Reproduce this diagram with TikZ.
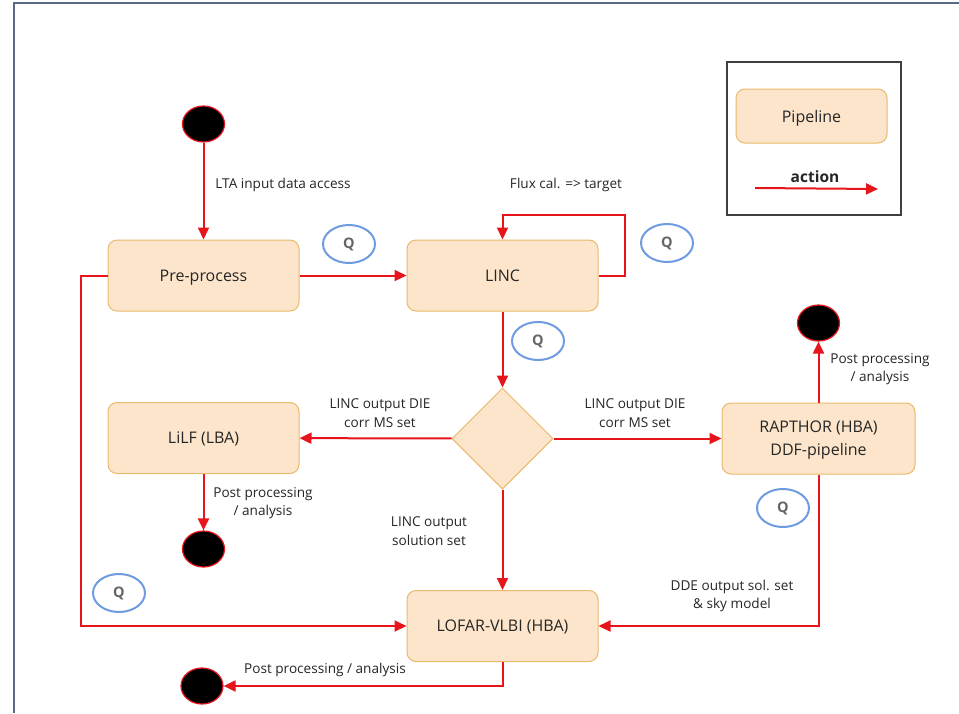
\documentclass[tikz,border=0pt]{standalone}
\usepackage{fontspec}
\setmainfont{Open Sans}
\usetikzlibrary{arrows.meta,shapes.geometric}
\definecolor{boxfill}{HTML}{FCE5CB}
\definecolor{boxborder}{HTML}{E9B96C}
\definecolor{arrred}{HTML}{E8141B}
\definecolor{qblue}{HTML}{6F9BE0}
\definecolor{framecol}{HTML}{596A86}
\definecolor{txt}{HTML}{262626}
\tikzset{
  pipe/.style={rectangle, rounded corners=9pt, draw=boxborder, fill=boxfill, line width=1pt,
    minimum width=191pt, minimum height=71pt, inner sep=0pt, align=center, text=txt,
    font=\fontsize{16}{23}\selectfont, text depth=0pt},
  decis/.style={diamond, aspect=1, draw=boxborder, fill=boxfill, line width=1pt,
    minimum width=101pt, minimum height=101pt, inner sep=0pt},
  endpt/.style={ellipse, fill=black, draw=arrred, line width=1.2pt, minimum width=42pt,
    minimum height=36pt, inner sep=0pt},
  qmark/.style={ellipse, draw=qblue, line width=2pt, fill=white, minimum width=52pt,
    minimum height=38pt, inner sep=0pt, text=black!60, font=\bfseries\fontsize{14.5}{16}\selectfont},
  arr/.style={draw=arrred, line width=2pt, -{Triangle[length=12pt,width=11pt]}},
  lbl/.style={align=center, text=txt, font=\fontsize{13.6}{18.5}\selectfont, inner sep=0pt}
}
\begin{document}
\begin{tikzpicture}[x=1pt,y=-1pt]
\useasboundingbox (0,0) rectangle (959,713);
\fill[white] (0,0) rectangle (959,713);
\draw[framecol, line width=2pt] (14,713) -- (14,3) -- (959,3);

% legend
\node[draw=black!75, line width=2pt, minimum width=174pt, minimum height=153pt, inner sep=0pt] (legend) at (814,138.5) {};
\node[pipe, minimum width=151pt, minimum height=54pt] (legpipe) at (811.5,116) {Pipeline};
\node[font=\bfseries\fontsize{15.5}{18}\selectfont, text=txt] (legact) at (815,177) {action};
\coordinate (legA) at (755,188);
\coordinate (legB) at (878,189);
\draw[arr] (legA) -- (legB);

% nodes
\node[endpt] (s1) at (203.5,124) {};
\node[pipe] (pre) at (203.5,275.5) {Pre-process};
\node[pipe] (linc) at (502.5,275.5) {LINC};
\node[decis] (dec) at (502.5,438.5) {};
\node[pipe] (lilf) at (203.5,438) {LiLF (LBA)};
\node[pipe, minimum width=193pt] (rap) at (818.5,438.5) {RAPTHOR (HBA)\\DDF-pipeline};
\node[pipe] (lofar) at (502.5,626) {LOFAR-VLBI (HBA)};
\node[endpt] (e1) at (203.5,549) {};
\node[endpt] (e2) at (818.5,323) {};
\node[endpt] (e3) at (202,686) {};

\node[qmark] (q1) at (349,244) {Q};
\node[qmark] (q2) at (667,243) {Q};
\node[qmark] (q3) at (538,341) {Q};
\node[qmark] (q4) at (783,508) {Q};
\node[qmark] (q5) at (119,593) {Q};

% connectors
\coordinate (loopR) at (625,215);
\coordinate (lcorner) at (81,626);
\draw[arr] (s1) -- (pre);
\draw[arr] (pre) -- (linc);
\draw[arr] (linc.east) -| (loopR) -| (linc.north);
\draw[arr] (linc) -- (dec);
\draw[arr] (dec) -- (lilf);
\draw[arr] (dec) -- (rap);
\draw[arr] (dec) -- (lofar);
\draw[arr] (lilf) -- (e1);
\draw[arr] (rap) -- (e2);
\draw[arr] (rap.south) |- (lofar.east);
\draw[arr] (pre.west) -| (lcorner) -- (lofar.west);
\draw[arr] (lofar.south) |- (e3.east);

% labels
\node[lbl] (l1) at (283,185) {LTA input data access};
\node[lbl] (l2) at (566,185) {Flux cal. => target};
\node[lbl] (l3) at (380,413) {LINC output DIE\\corr MS set};
\node[lbl] (l4) at (635,413) {LINC output DIE\\corr MS set};
\node[lbl] (l5) at (263,503) {Post processing\\/ analysis};
\node[lbl] (l6) at (880,369) {Post processing\\/ analysis};
\node[lbl] (l7) at (429,531) {LINC output\\solution set};
\node[lbl] (l8) at (732,596) {DDE output sol. set\\\& sky model};
\node[lbl] (l9) at (325,670) {Post processing / analysis};
\end{tikzpicture}
\end{document}
